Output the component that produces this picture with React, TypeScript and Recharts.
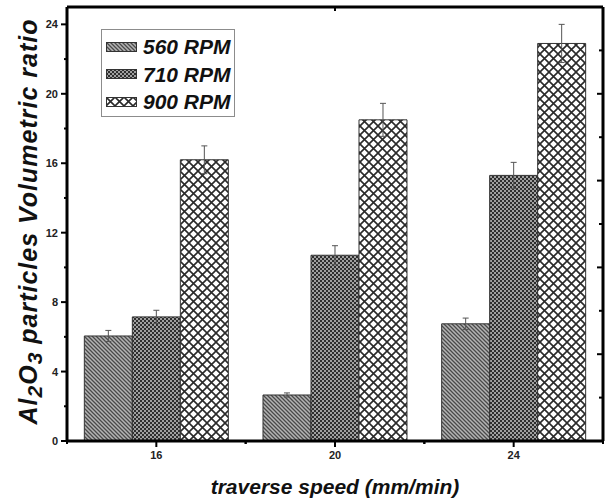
import React from 'react';
import { BarChart, Bar, XAxis, YAxis, ErrorBar } from 'recharts';

const speeds = ['16', '20', '24'];
const rpm560 = [6.05, 2.65, 6.75];
const err560 = [0.32, 0.12, 0.33];
const rpm710 = [7.15, 10.7, 15.3];
const err710 = [0.38, 0.55, 0.75];
const rpm900 = [16.2, 18.5, 22.9];
const err900 = [0.8, 0.95, 1.1];

const yTicks = [0, 2, 4, 6, 8, 10, 12, 14, 16, 18, 20, 22, 24];
const frameTicks = [1, 2, 3, 4, 5, 6, 7, 8, 9];

const data = speeds.map((s, i) => ({
  speed: s,
  r560: rpm560[i],
  e560: err560[i],
  r710: rpm710[i],
  e710: err710[i],
  r900: rpm900[i],
  e900: err900[i],
}));

const FONT = '"Liberation Sans", Arial, sans-serif';

const series = [
  { key: 'r560', err: 'e560', name: '560 RPM', fill: 'url(#p560)' },
  { key: 'r710', err: 'e710', name: '710 RPM', fill: 'url(#p710)' },
  { key: 'r900', err: 'e900', name: '900 RPM', fill: 'url(#p900)' },
];

const LeftTick = (props: any) => {
  const { x, y, payload } = props;
  const axisX = x + 8;
  const major = payload.value % 4 === 0;
  return (
    <g>
      <line x1={axisX - (major ? 6 : 3)} x2={axisX} y1={y} y2={y} stroke="#000" strokeWidth={2} />
      {major && (
        <text x={axisX - 9} y={y + 4} textAnchor="end" fontFamily={FONT} fontWeight="bold" fontSize={11} fill="#222">
          {payload.value}
        </text>
      )}
    </g>
  );
};

const BottomTick = (props: any) => {
  const { x, y, payload } = props;
  const axisY = y - 9;
  const half = payload.offset ?? 0;
  return (
    <g>
      <line x1={x} x2={x} y1={axisY} y2={axisY + 6} stroke="#000" strokeWidth={2} />
      {half > 0 && (
        <>
          <line x1={x - half} x2={x - half} y1={axisY} y2={axisY + 3} stroke="#000" strokeWidth={2} />
          <line x1={x + half} x2={x + half} y1={axisY} y2={axisY + 3} stroke="#000" strokeWidth={2} />
        </>
      )}
      <text x={x} y={axisY + 18} textAnchor="middle" fontFamily={FONT} fontWeight="bold" fontSize={11} fill="#222">
        {payload.value}
      </text>
    </g>
  );
};

const TopTick = (props: any) => {
  const { x, y, payload } = props;
  const top = y + 1;
  const len = payload.value % 2 === 0 ? 5 : 3;
  return <line x1={x} x2={x} y1={top} y2={top + len} stroke="#000" strokeWidth={2} />;
};

const RightTick = (props: any) => {
  const { x, y, payload } = props;
  const right = x - 1;
  const len = payload.value % 2 === 0 ? 5 : 3;
  return <line x1={right - len} x2={right} y1={y} y2={y} stroke="#000" strokeWidth={2} />;
};

const LegendBox = () => (
  <div
    style={{
      position: 'absolute',
      left: 101,
      top: 29,
      width: 134,
      height: 88,
      border: '1px solid #8c8c8c',
      boxSizing: 'border-box',
      background: '#fff',
    }}
  >
    {series.map((s, i) => (
      <div
        key={s.key}
        style={{
          position: 'absolute',
          left: 4,
          top: 5 + i * 27.5,
          height: 24,
          display: 'flex',
          alignItems: 'center',
        }}
      >
        <svg width={32} height={11} style={{ display: 'block' }}>
          <rect x={0.5} y={0.5} width={30} height={9} fill={s.fill} stroke="#333" strokeWidth={1} />
        </svg>
        <span
          style={{
            marginLeft: 5,
            fontFamily: FONT,
            fontWeight: 'bold',
            fontStyle: 'italic',
            fontSize: 21,
            lineHeight: '24px',
            color: '#111',
            whiteSpace: 'nowrap',
          }}
        >
          {s.name}
        </span>
      </div>
    ))}
  </div>
);

export default function App() {
  return (
    <div style={{ position: 'absolute', left: 0, top: 0, width: 605, height: 502, background: '#fff' }}>
      <BarChart
        width={605}
        height={502}
        data={data}
        margin={{ top: 6, right: 1, left: 20, bottom: 0 }}
        barCategoryGap="9.7%"
        barGap={0}
      >
        <defs>
          <pattern id="p560" width={4} height={4} patternUnits="userSpaceOnUse">
            <rect width={4} height={4} fill="#b4b4b4" />
            <path d="M-1,-1 L5,5 M-1,3 L1,5 M3,-1 L5,1" stroke="#4a4a4a" strokeWidth={1.3} />
          </pattern>
          <pattern id="p710" width={4} height={4} patternUnits="userSpaceOnUse">
            <rect width={4} height={4} fill="#a0a0a0" />
            <rect x={0} y={0} width={2} height={2} fill="#2e2e2e" />
            <rect x={2} y={2} width={2} height={2} fill="#2e2e2e" />
          </pattern>
          <pattern id="p900" width={9} height={9} patternUnits="userSpaceOnUse">
            <rect width={9} height={9} fill="#fff" />
            <path d="M-1,-1 L10,10 M10,-1 L-1,10" stroke="#2a2a2a" strokeWidth={1.6} />
          </pattern>
        </defs>
        <XAxis
          dataKey="speed"
          height={61}
          axisLine={{ stroke: '#000', strokeWidth: 3 }}
          tickLine={false}
          tickSize={5}
          tickMargin={4}
          tick={<BottomTick />}
          interval={0}
          label={{
            content: (p: any) => {
              const vb = p.viewBox || { x: 67, y: 441, width: 536 };
              return (
                <text
                  x={vb.x + vb.width / 2}
                  y={vb.y + 53}
                  textAnchor="middle"
                  fontFamily={FONT}
                  fontWeight="bold"
                  fontStyle="italic"
                  fontSize={21}
                  fill="#111"
                >
                  traverse speed (mm/min)
                </text>
              );
            },
          }}
        />
        <XAxis
          xAxisId="top"
          orientation="top"
          type="number"
          domain={[0, 10]}
          allowDataOverflow
          ticks={frameTicks}
          interval={0}
          height={1}
          axisLine={{ stroke: '#000', strokeWidth: 3 }}
          tickLine={false}
          tickSize={0}
          tickMargin={0}
          tick={<TopTick />}
        />
        <YAxis
          width={47}
          domain={[0, 25]}
          ticks={yTicks}
          interval={0}
          axisLine={{ stroke: '#000', strokeWidth: 3 }}
          tickLine={false}
          tickSize={5}
          tickMargin={3}
          tick={<LeftTick />}
          label={{
            content: (p: any) => {
              const vb = p.viewBox || { x: 20, y: 7, height: 434 };
              const cx = 37;
              const cy = vb.y + vb.height / 2 - 2;
              return (
                <text
                  x={cx}
                  y={cy}
                  transform={`rotate(-90, ${cx}, ${cy})`}
                  textAnchor="middle"
                  fontFamily={FONT}
                  fontWeight="bold"
                  fontStyle="italic"
                  fontSize={25}
                  fill="#111"
                  textLength={405}
                  lengthAdjust="spacing"
                >
                  Al
                  <tspan fontSize={21} dy={5}>2</tspan>
                  <tspan dy={-5}>O</tspan>
                  <tspan fontSize={21} dy={5}>3</tspan>
                  <tspan dy={-5}> particles Volumetric ratio</tspan>
                </text>
              );
            },
          }}
        />
        <YAxis
          yAxisId="right"
          orientation="right"
          domain={[0, 10]}
          allowDataOverflow
          ticks={frameTicks}
          interval={0}
          width={1}
          axisLine={{ stroke: '#000', strokeWidth: 3 }}
          tickLine={false}
          tickSize={0}
          tickMargin={0}
          tick={<RightTick />}
        />
        {series.map((s) => (
          <Bar
            key={s.key}
            dataKey={s.key}
            name={s.name}
            fill={s.fill}
            stroke="#333"
            strokeWidth={1}
            isAnimationActive={false}
          >
            <ErrorBar dataKey={s.err} stroke="#555" strokeWidth={1} width={3} />
          </Bar>
        ))}
      </BarChart>
      <LegendBox />
    </div>
  );
}
